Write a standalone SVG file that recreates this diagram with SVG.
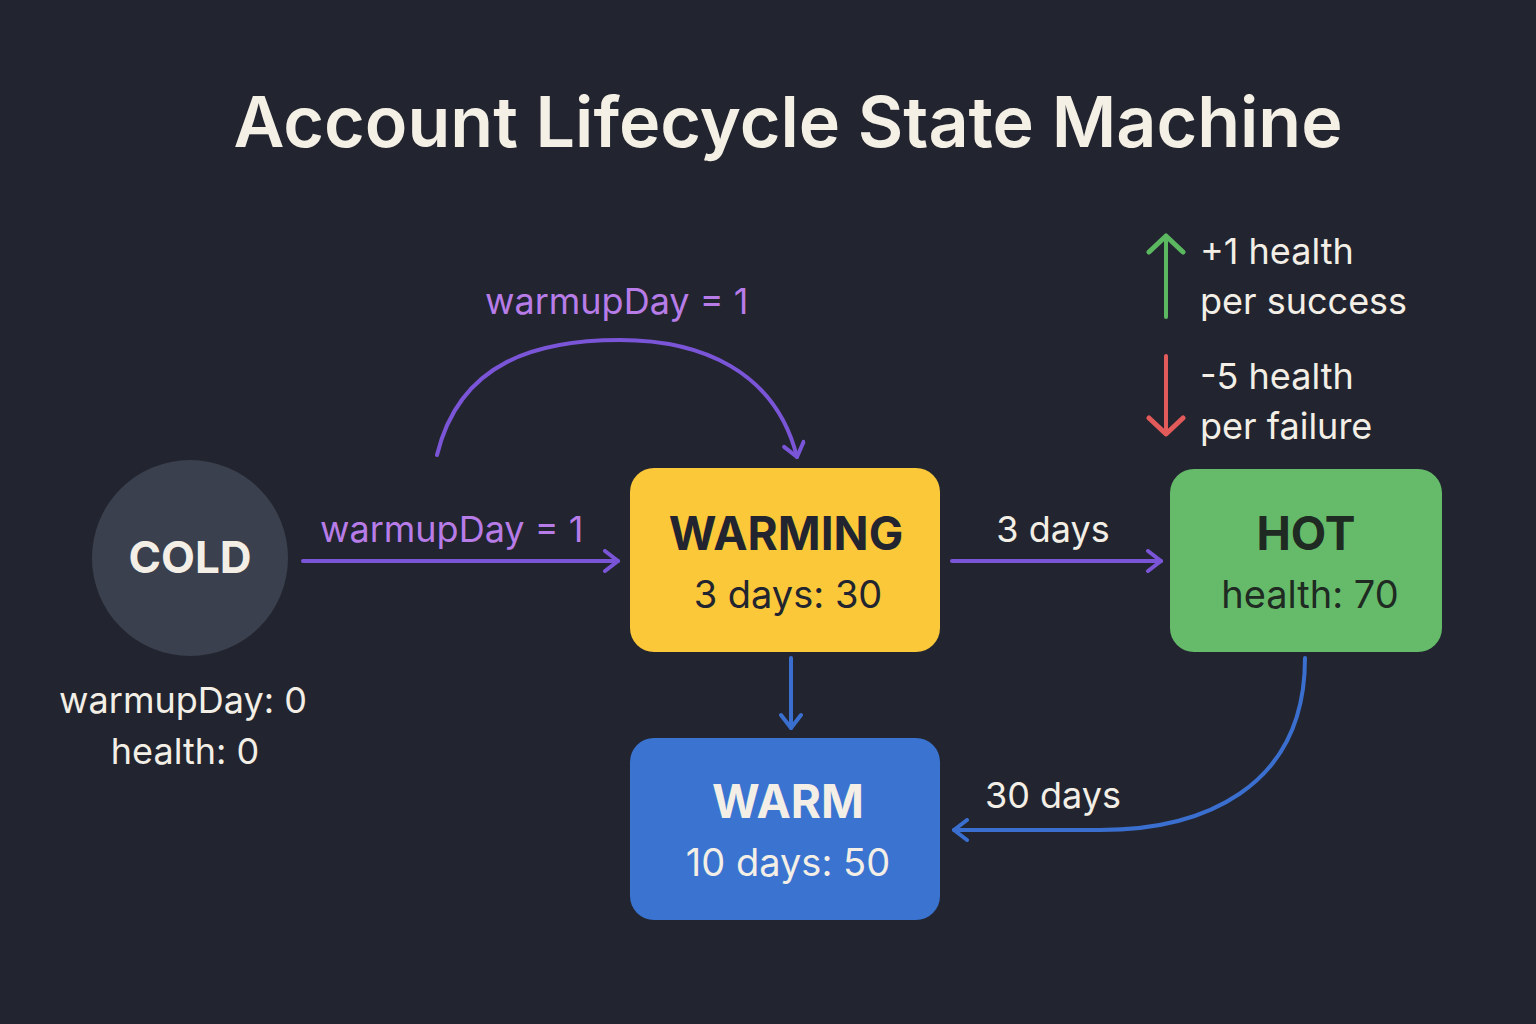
<svg xmlns="http://www.w3.org/2000/svg" width="1536" height="1024" viewBox="0 0 1536 1024">
<style>
.t{font-family:Inter,"Noto Sans","DejaVu Sans",sans-serif}
.lbl{font-size:36px;fill:#f3efe6}
.pl{font-size:36px;fill:#b77ce8}
.c{fill:none;stroke-width:4;stroke-linecap:round}
</style>
<defs>
<marker id="ap" viewBox="0 0 20 24" refX="17" refY="12" markerWidth="20" markerHeight="24" markerUnits="userSpaceOnUse" orient="auto"><path d="M4 2 L17 12 L4 22" fill="none" stroke="#7b55d8" stroke-width="4" stroke-linecap="round" stroke-linejoin="round"/></marker>
<marker id="ab" viewBox="0 0 20 24" refX="17" refY="12" markerWidth="20" markerHeight="24" markerUnits="userSpaceOnUse" orient="auto"><path d="M4 2 L17 12 L4 22" fill="none" stroke="#3a6fd0" stroke-width="4" stroke-linecap="round" stroke-linejoin="round"/></marker>
<marker id="ag" viewBox="0 0 24 40" refX="20" refY="20" markerWidth="24" markerHeight="40" markerUnits="userSpaceOnUse" orient="auto"><path d="M4 3 L20 20 L4 37" fill="none" stroke="#5cb860" stroke-width="5" stroke-linecap="round" stroke-linejoin="round"/></marker>
<marker id="ar" viewBox="0 0 24 40" refX="20" refY="20" markerWidth="24" markerHeight="40" markerUnits="userSpaceOnUse" orient="auto"><path d="M4 3 L20 20 L4 37" fill="none" stroke="#e35a5a" stroke-width="5" stroke-linecap="round" stroke-linejoin="round"/></marker>
</defs>
<rect width="1536" height="1024" fill="#22252f"/>
<text class="t" x="788" y="147" text-anchor="middle" font-size="70" font-weight="600" fill="#f5f0e6">Account Lifecycle State Machine</text>
<g id="connectors">
<path class="c" stroke="#7b55d8" d="M303 561 H618" marker-end="url(#ap)"/>
<text class="t pl" x="320" y="542">warmupDay  = 1</text>
<path class="c" stroke="#7b55d8" d="M437 455 C460 360 540 340 620 340 C700 340 775 370 797 457" marker-end="url(#ap)"/>
<text class="t pl" x="485" y="314">warmupDay = 1</text>
<path class="c" stroke="#7b55d8" d="M952 561 H1161" marker-end="url(#ap)"/>
<text class="t lbl" x="1053" y="542" text-anchor="middle">3 days</text>
<path class="c" stroke="#3a6fd0" d="M791 658 V728" marker-end="url(#ab)"/>
<path class="c" stroke="#3a6fd0" d="M1305 658 C1305 790 1200 830 1100 830 H954" marker-end="url(#ab)"/>
<text class="t lbl" x="1053" y="808" text-anchor="middle">30 days</text>
</g>
<g id="cold">
<circle cx="190" cy="558" r="98" fill="#3a404d"/>
<text class="t" x="190" y="573" text-anchor="middle" font-size="44" font-weight="700" fill="#f3efe6">COLD</text>
<text class="t lbl" x="183" y="713" text-anchor="middle">warmupDay: 0</text>
<text class="t lbl" x="185" y="764" text-anchor="middle">health: 0</text>
</g>
<g id="warming">
<rect x="630" y="468" width="310" height="184" rx="24" fill="#fbc83a"/>
<text class="t" x="786" y="550" text-anchor="middle" font-size="46" font-weight="700" fill="#22252f">WARMING</text>
<text class="t" x="788" y="608" text-anchor="middle" font-size="38" fill="#22252f">3 days: 30</text>
</g>
<g id="hot">
<rect x="1170" y="469" width="272" height="183" rx="24" fill="#66bb6a"/>
<text class="t" x="1306" y="550" text-anchor="middle" font-size="46" font-weight="700" fill="#1e2a22">HOT</text>
<text class="t" x="1310" y="608" text-anchor="middle" font-size="38" fill="#1e2a22">health: 70</text>
</g>
<g id="warm">
<rect x="630" y="738" width="310" height="182" rx="24" fill="#3a73d0"/>
<text class="t" x="788" y="818" text-anchor="middle" font-size="46" font-weight="700" fill="#f3efe6">WARM</text>
<text class="t" x="788" y="876" text-anchor="middle" font-size="38" fill="#f3efe6">10 days: 50</text>
</g>
<g id="legend">
<path class="c" stroke="#5cb860" stroke-width="5" d="M1166 317 V236" marker-end="url(#ag)"/>
<text class="t lbl" x="1200" y="264" font-size="38">+1 health</text>
<text class="t lbl" x="1200" y="314" font-size="38">per success</text>
<path class="c" stroke="#e35a5a" stroke-width="5" d="M1166 356 V434" marker-end="url(#ar)"/>
<text class="t lbl" x="1200" y="389" font-size="38">-5 health</text>
<text class="t lbl" x="1200" y="439" font-size="38">per failure</text>
</g>
</svg>
